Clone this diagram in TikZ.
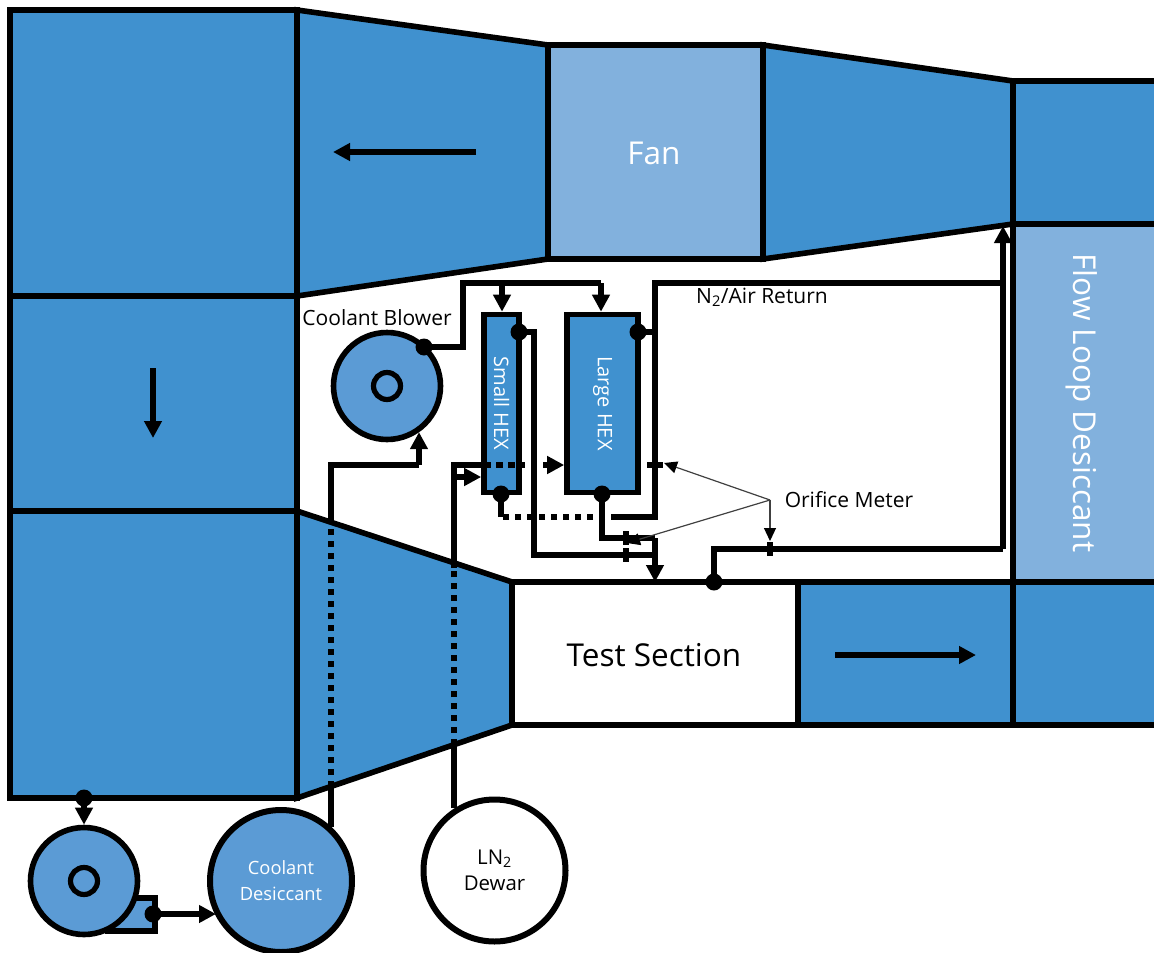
\documentclass[tikz,border=0pt]{standalone}
\usepackage{fontspec}
\setmainfont{Open Sans}
\usetikzlibrary{arrows.meta, positioning}
\definecolor{ductblue}{RGB}{64,145,207}
\definecolor{lightblue}{RGB}{130,177,221}
\definecolor{unitblue}{RGB}{91,155,213}
\tikzset{
  wall/.style={draw=black,line width=5.6pt,fill=ductblue,line join=miter},
  pipe/.style={draw=black,line width=5.2pt,line join=miter},
  flow/.style={pipe,-{Triangle[length=17pt,width=17pt]}},
  dots/.style={pipe,dash pattern=on 6.5pt off 5.5pt},
  tick/.style={draw=black,line width=5.2pt},
  pointer/.style={draw=black!75,line width=1.2pt,-{Triangle[length=13pt,width=12pt,fill=black,color=black]}},
  joint/.style={circle,fill=black,inner sep=0pt,minimum size=17pt},
  unit/.style={circle,draw=black,line width=5.6pt,fill=unitblue,inner sep=0pt,minimum size=107pt},
  tank/.style={circle,draw=black,line width=6pt,fill=unitblue,inner sep=0pt,minimum size=142pt,align=center},
  hex/.style={rectangle,draw=black,line width=5.6pt,fill=ductblue,inner sep=0pt},
  hexlabel/.style={rotate=-90,text=white,font=\fontsize{20}{24}\selectfont},
  biglabel/.style={font=\fontsize{31.5}{36}\selectfont},
  smalllabel/.style={font=\fontsize{21}{25}\selectfont}
}
\begin{document}
\begin{tikzpicture}[x=1pt,y=-1pt]
  \useasboundingbox (0,0) rectangle (1154,953);
  % duct blocks
  \foreach \xa/\ya/\xb/\yb in {
    10/10/297/296,
    10/296/297/511,
    10/511/297/798,
    798/582/1013/725
  }{
    \draw[wall] (\xa,\ya) rectangle (\xb,\yb);
  }
  \draw[wall] (297,10) -- (548,45) -- (548,259) -- (297,296) -- cycle;
  \draw[wall] (763,45) -- (1013,81) -- (1013,224) -- (763,259) -- cycle;
  \draw[wall] (297,511) -- (512,582) -- (512,725) -- (297,798) -- cycle;
  \draw[wall,fill=lightblue] (548,45) rectangle (763,259);
  \draw[wall,fill=white] (512,582) rectangle (798,725);
  \node[text=white,biglabel] (fan) at (654,153) {Fan};
  \node[biglabel] (testsection) at (654,655) {Test Section};
  \node[fill=lightblue,text=white,biglabel,rotate=-90,minimum width=358pt,minimum height=145pt] (flowdesiccant) at (1082,403) {Flow Loop Desiccant};
  \filldraw[wall] (1154,224) -- (1013,224) -- (1013,81) -- (1154,81);
  \filldraw[wall] (1154,725) -- (1013,725) -- (1013,582) -- (1154,582);
  \draw[wall] (1013,224) -- (1013,582);

  % flow direction in the duct
  \coordinate (dirtopa) at (476,152);
  \coordinate (dirtopb) at (333,152);
  \coordinate (dirlefta) at (153,368);
  \coordinate (dirleftb) at (153,438);
  \coordinate (dirlowa) at (835,655);
  \coordinate (dirlowb) at (976,655);
  \draw[flow] (dirtopa) -- (dirtopb);
  \draw[flow] (dirlefta) -- (dirleftb);
  \draw[flow] (dirlowa) -- (dirlowb);

  % units
  \node[unit] (blower) at (387,386) {};
  \node[circle,draw=black,line width=5.2pt,fill=unitblue,minimum size=27pt,inner sep=0pt] (blowerhub) at (blower) {};
  \node[smalllabel] (blowerlabel) at (377,318) {Coolant Blower};
  \node[hex,minimum width=35pt,minimum height=178pt] (smallhex) at (501.5,403.5) {};
  \node[hexlabel] (smallhexlabel) at (smallhex) {Small HEX};
  \node[hex,minimum width=71pt,minimum height=178pt] (largehex) at (602.5,403.5) {};
  \node[hexlabel] (largehexlabel) at (largehex) {Large HEX};
  \draw[wall,fill=unitblue] (105,931) -- (155,931) -- (155,898) -- (130,898);
  \node[unit] (pump) at (84,881) {};
  \node[circle,draw=black,line width=5.2pt,fill=unitblue,minimum size=27pt,inner sep=0pt] (pumphub) at (pump) {};
  \node[tank,text=white,font=\fontsize{18.3}{26}\selectfont] (coolant) at (281,881) {Coolant\\Desiccant};
  \node[tank,fill=white,font=\fontsize{20.4}{26}\selectfont] (dewar) at (494.5,870.5) {LN\textsubscript{2}\\Dewar};

  % joints
  \node[joint] (jblower) at (424,347) {};
  \node[joint] (jsmallout) at (519,332) {};
  \node[joint] (jlargeout) at (638,332) {};
  \node[joint] (jsmallbot) at (501,494) {};
  \node[joint] (jlargebot) at (602,494) {};
  \node[joint] (jduct) at (714,582) {};
  \node[joint] (jsump) at (84,798) {};
  \node[joint] (jpump) at (153,914) {};

  % pipe corners
  \coordinate (topleft) at (463,283);
  \coordinate (topsmall) at (502,283);
  \coordinate (toplarge) at (601,283);
  \coordinate (retend) at (1000,283);
  \coordinate (retcorner) at (655,283);
  \coordinate (retbot) at (655,517);
  \coordinate (retdash) at (617,517);
  \coordinate (dashend) at (501,517);
  \coordinate (lowa) at (602,538);
  \coordinate (lowb) at (655,538);
  \coordinate (lowc) at (534,555);
  \coordinate (lowd) at (655,555);
  \coordinate (mix) at (655,582);
  \coordinate (rise) at (714,549);
  \coordinate (risecorner) at (1003,549);
  \coordinate (riseend) at (1003,226);
  \coordinate (lntop) at (454,465);
  \coordinate (lnbranch) at (454,477);
  \coordinate (lnduct) at (454,568);
  \coordinate (lnductb) at (454,745);
  \coordinate (hexin) at (484,465);
  \coordinate (hexmid) at (525,465);
  \coordinate (hexmidb) at (543,465);
  \coordinate (coolduct) at (331,787);
  \coordinate (coolductb) at (331,524);
  \coordinate (coolcorner) at (331,465);
  \coordinate (blowin) at (419,465);
  \coordinate (pumpout) at (216,914);

  % coolant loop
  \draw[pipe] (jblower.center) -| (topleft) -- (toplarge);
  \draw[flow] (topsmall) -- (topsmall |- smallhex.north);
  \draw[flow] (toplarge) -- (toplarge |- largehex.north);
  \draw[pipe] (coolduct |- coolant.47.5) -- (coolduct);
  \draw[dots] (coolduct) -- (coolductb);
  \draw[pipe] (coolductb) -- (coolcorner) -- (blowin);
  \draw[flow] (blowin) -- (blowin |- blower.-55);
  \draw[flow] (jsump.center) -- (pump.north);
  \draw[flow] (jpump.center) -- (pumpout);

  % nitrogen lines
  \draw[pipe] (lnductb |- dewar.123) -- (lnductb);
  \draw[dots] (lnductb) -- (lnduct);
  \draw[pipe] (lnduct) -- (lntop) -- (hexin);
  \draw[dots] (hexin) -- (hexmid);
  \draw[flow] (hexmidb) -- (largehex.west |- hexmidb);
  \draw[flow] (lnbranch) -- (smallhex.west |- lnbranch);
  \draw[pipe] (jsmallout.center) -| (lowc) -- (lowd);
  \draw[pipe] (jlargeout.center) -- (jlargeout -| retcorner);
  \draw[pipe] (retend) -- (retcorner) -- (retbot) -- (retdash);
  \draw[dots] (retdash) -- (dashend);
  \draw[pipe] (dashend) -- (jsmallbot.center);
  \draw[pipe] (jlargebot.center) -- (lowa) -- (lowb);
  \draw[flow] (lowb) -- (mix);
  \draw[pipe] (jduct.center) -- (rise) -- (risecorner);
  \draw[flow] (risecorner) -- (riseend);
  \node[smalllabel] (returnlabel) at (762,297.5) {N\textsubscript{2}/Air Return};

  % orifice plates
  \foreach \tx/\ty in {655/465, 626/538, 626/555, 770/549}{
    \ifnum\tx=655
      \draw[tick] (\tx-8,\ty) -- (\tx+8,\ty);
    \else
      \draw[tick] (\tx,\ty-7) -- (\tx,\ty+7);
    \fi
  }
  \node[smalllabel] (orificelabel) at (849,500) {Orifice Meter};
  \coordinate (orificeapex) at (770,500);
  \coordinate (orificea) at (664,463);
  \coordinate (orificeb) at (627,543);
  \coordinate (orificec) at (770,541);
  \draw[pointer] (orificeapex) -- (orificea);
  \draw[pointer] (orificeapex) -- (orificeb);
  \draw[pointer] (orificeapex) -- (orificec);
\end{tikzpicture}
\end{document}
